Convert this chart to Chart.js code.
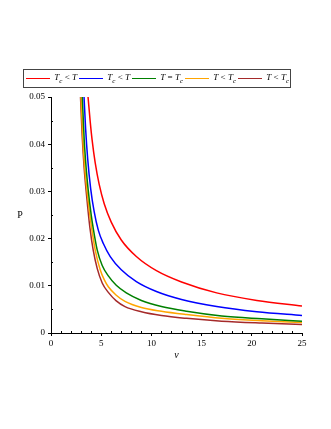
<!DOCTYPE html>
<html>
<head>
<meta charset="utf-8">
<script src="https://cdn.jsdelivr.net/npm/chart.js@4"></script>
<style>
body { margin: 0; background: #fff; }
#wrap { position: relative; width: 331px; height: 429px; }
#legend {
  position: absolute; left: 23px; top: 69px; width: 266px; height: 17px;
  border: 1px solid #444; display: flex; align-items: center;
  font-family: "Liberation Serif", serif; font-size: 9px; color: #000;
}
.item { display: flex; align-items: center; width: 53px; white-space: nowrap; }
.swatch { width: 25px; height: 0; border-top: 1.5px solid; margin: 0 4px 0 2px; }
.lab i { font-style: italic; }
.lab sub { font-size: 7px; }
</style>
</head>
<body>
<div id="wrap">
  <canvas id="chart"></canvas>
  <div id="legend"></div>
</div>
<script>
// values (v, P)
var vRed = [3.69, 3.9, 4.1, 4.4, 4.8, 5.3, 6.0, 7.0, 8.5, 10.5, 13, 16.5, 20.5, 25];
var pRed = [0.050, 0.0449, 0.0408, 0.0361, 0.0315, 0.0274, 0.0235, 0.0197, 0.0162, 0.0132, 0.0108, 0.0085, 0.0069, 0.0057];

var vBlue = [3.29, 3.45, 3.65, 3.95, 4.3, 4.71, 5.2, 5.9, 7.0, 8.5, 10.5, 13, 16.5, 20.5, 25];
var pBlue = [0.050, 0.0432, 0.0370, 0.0306, 0.0257, 0.0218, 0.0190, 0.0162, 0.0134, 0.0109, 0.0088, 0.0071, 0.0056, 0.0045, 0.0037];

var vGreen = [3.12, 3.3, 3.5, 3.69, 4.0, 4.22, 4.6, 5.1, 5.71, 6.5, 7.5, 9, 11, 13.5, 17, 21, 25];
var pGreen = [0.050, 0.0412, 0.0350, 0.0306, 0.0251, 0.0220, 0.0176, 0.0143, 0.0121, 0.0101, 0.0085, 0.0069, 0.0056, 0.0046, 0.0036, 0.0030, 0.0025];

var vOrange = [2.99, 3.2, 3.4, 3.59, 3.8, 4.05, 4.4, 4.9, 5.3, 5.71, 6.5, 7.37, 9, 11, 13.5, 17, 21, 25];
var pOrange = [0.050, 0.0400, 0.0340, 0.0300, 0.0262, 0.0222, 0.0176, 0.0134, 0.0113, 0.0098, 0.0080, 0.0067, 0.0054, 0.0046, 0.0039, 0.0031, 0.0026, 0.0022];

var vBrown = [2.94, 3.1, 3.3, 3.49, 3.7, 3.88, 4.2, 4.6, 5.1, 5.71, 6.5, 7.37, 9, 11, 13.5, 17, 21, 25];
var pBrown = [0.050, 0.0420, 0.0350, 0.0303, 0.0257, 0.0222, 0.0176, 0.0137, 0.0106, 0.0086, 0.0068, 0.0056, 0.0045, 0.0037, 0.0031, 0.0025, 0.0021, 0.0018];

var yTicks = [0, 0.01, 0.02, 0.03, 0.04, 0.05];
var xTicks = [0, 5, 10, 15, 20, 25];

var legendLabels = [
  '<i>T</i><sub><i>c</i></sub> &lt; <i>T</i>',
  '<i>T</i><sub><i>c</i></sub> &lt; <i>T</i>',
  '<i>T</i> = <i>T</i><sub><i>c</i></sub>',
  '<i>T</i> &lt; <i>T</i><sub><i>c</i></sub>',
  '<i>T</i> &lt; <i>T</i><sub><i>c</i></sub>'
];
var colors = ['#ff0000', '#0000ff', '#008000', '#ffa500', '#a52a2a'];

function pts(v, p) {
  return v.map(function (x, i) { return { x: x, y: p[i] }; });
}

var series = [pts(vRed, pRed), pts(vBlue, pBlue), pts(vGreen, pGreen), pts(vOrange, pOrange), pts(vBrown, pBrown)];

var leg = document.getElementById('legend');
legendLabels.forEach(function (l, i) {
  var d = document.createElement('div');
  d.className = 'item';
  d.innerHTML = '<span class="swatch" style="border-color:' + colors[i] + '"></span><span class="lab">' + l + '</span>';
  leg.appendChild(d);
});

var serif = "'Liberation Serif', 'Times New Roman', serif";

// minor ticks and axis titles
var extras = {
  id: 'extras',
  afterDraw: function (chart) {
    var c = chart.ctx, xs = chart.scales.x, ys = chart.scales.y, a = chart.chartArea;
    c.save();
    c.strokeStyle = '#000';
    c.lineWidth = 1;
    c.beginPath();
    for (var v = 1; v < 25; v++) {
      if (v % 5 === 0) continue;
      var px = Math.round(xs.getPixelForValue(v)) + 0.5;
      c.moveTo(px, a.bottom);
      c.lineTo(px, a.bottom - 2);
    }
    for (var k = 0; k < 5; k++) {
      var py = Math.round(ys.getPixelForValue(0.005 + k * 0.01)) + 0.5;
      c.moveTo(a.left, py);
      c.lineTo(a.left + 2, py);
    }
    c.stroke();
    c.fillStyle = '#000';
    c.textAlign = 'center';
    c.textBaseline = 'middle';
    c.font = '10px ' + serif;
    c.fillText('P', 20, (a.top + a.bottom) / 2);
    c.font = 'italic 10px ' + serif;
    c.fillText('v', (a.left + a.right) / 2, a.bottom + 22);
    c.restore();
  }
};

var ctx = document.getElementById('chart').getContext('2d');
var chart = new Chart(ctx, {
  type: 'line',
  data: {
    datasets: series.map(function (s, i) {
      return {
        data: s,
        borderColor: colors[i],
        borderWidth: 1.5,
        pointRadius: 0,
        fill: false,
        cubicInterpolationMode: 'monotone'
      };
    })
  },
  options: {
    responsive: true,
    maintainAspectRatio: false,
    animation: false,
    layout: { padding: { left: 0, right: 29, top: 97, bottom: 0 } },
    plugins: { legend: { display: false }, tooltip: { enabled: false } },
    scales: {
      x: {
        type: 'linear',
        min: 0, max: 25,
        afterFit: function (s) { s.height = 96; },
        afterBuildTicks: function (s) { s.ticks = xTicks.map(function (v) { return { value: v }; }); },
        grid: { drawOnChartArea: false, tickLength: 3, color: '#000' },
        border: { color: '#000', width: 1 },
        ticks: { color: '#000', padding: 2, maxRotation: 0, font: { family: serif, size: 9 } }
      },
      y: {
        min: 0, max: 0.05,
        afterFit: function (s) { s.width = 51; },
        afterBuildTicks: function (s) { s.ticks = yTicks.map(function (v) { return { value: v }; }); },
        grid: { drawOnChartArea: false, tickLength: 3, color: '#000' },
        border: { color: '#000', width: 1 },
        ticks: {
          color: '#000', padding: 3, font: { family: serif, size: 9 },
          callback: function (v) { return v === 0 ? '0' : v.toFixed(2); }
        }
      }
    }
  },
  plugins: [extras]
});
</script>
</body>
</html>
